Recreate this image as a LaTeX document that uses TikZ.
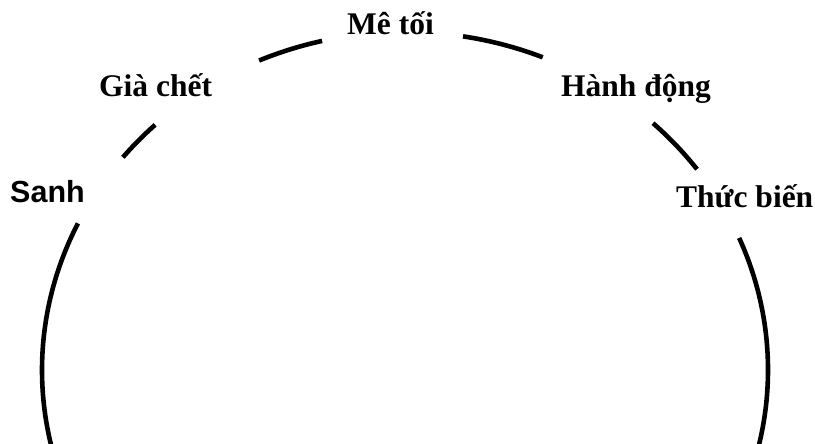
\documentclass[tikz,border=0pt]{standalone}
\usepackage{fontspec}
\setmainfont{Liberation Serif}
\newfontfamily\sanhfont{Liberation Sans}
\begin{document}
\begin{tikzpicture}[x=1pt,y=1pt,
  ring/.style={line width=4.6pt},
  lbl/.style={font=\fontsize{31.5}{36}\selectfont\bfseries, inner sep=0pt, anchor=base west},
  sanhlbl/.style={font=\sanhfont\fontsize{30.5}{36}\selectfont\bfseries, inner sep=0pt, anchor=base west}]
\path[use as bounding box] (0,0) rectangle (815,444);
\clip (0,0) rectangle (815,444);
\coordinate (c) at (405,74);
\draw[ring] (c) ++(195:363 and 338) arc[start angle=195, end angle=154.3, x radius=363, y radius=338];
\draw[ring] (c) ++(141:363 and 338) arc[start angle=141, end angle=133.5, x radius=363, y radius=338];
\draw[ring] (c) ++(113.7:363 and 338) arc[start angle=113.7, end angle=103.2, x radius=363, y radius=338];
\draw[ring] (c) ++(80.8:363 and 338) arc[start angle=80.8, end angle=67.7, x radius=363, y radius=338];
\draw[ring] (c) ++(46.9:363 and 338) arc[start angle=46.9, end angle=36.45, x radius=363, y radius=338];
\draw[ring] (c) ++(23:363 and 338) arc[start angle=23, end angle=-15, x radius=363, y radius=338];
\node[lbl] (meto) at (347,409) {Mê tối};
\node[lbl] (giachet) at (99,347) {Già chết};
\node[lbl] (hanhdong) at (561,347) {Hành động};
\node[lbl] (thucbien) at (676,236) {Thức biến};
\node[sanhlbl] (sanh) at (10,241) {Sanh};
\end{tikzpicture}
\end{document}
